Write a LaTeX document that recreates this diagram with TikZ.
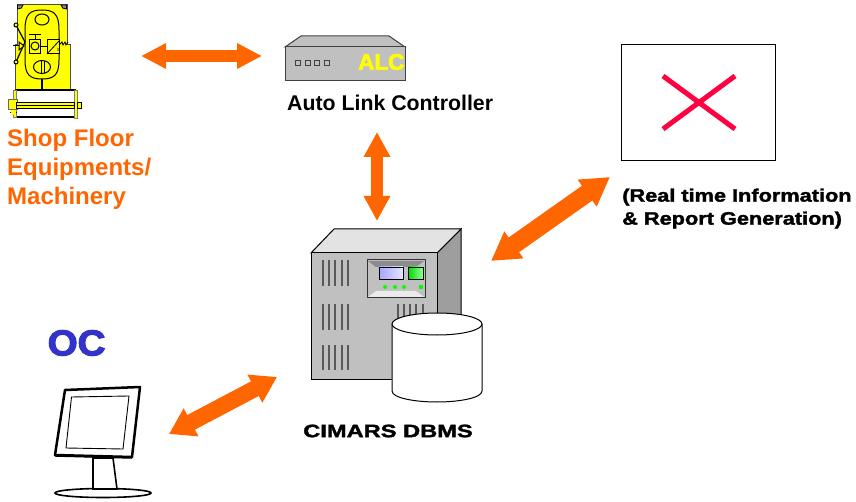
\documentclass[tikz,border=0pt]{standalone}
\usepackage{fontspec}
\setmainfont{Liberation Sans}
\newfontfamily\hvy{Liberation Sans}[BoldFeatures={FakeBold=1.6}]
\newfontfamily\hvyx{Liberation Sans}[BoldFeatures={FakeBold=3}]
\usetikzlibrary{arrows.meta}
\definecolor{org}{HTML}{FF6600}
\definecolor{gryc}{HTML}{C0C0C0}
\definecolor{ylw}{HTML}{FFFF00}
\definecolor{ocblue}{HTML}{3333CC}
\definecolor{crim}{HTML}{FF0040}
\tikzset{
  link/.style n args={3}{draw=org,line width=#1,{Triangle[length=#2,width=#3]}-{Triangle[length=#2,width=#3]}},
  lbl/.style={inner sep=0pt,anchor=west,text=black},
  ma/.style={draw=black,line width=1pt,fill=ylw},
  vent/.style={draw=black!65,line width=1.4pt},
}
\begin{document}
\begin{tikzpicture}[x=1pt,y=-1pt]
\useasboundingbox (0,0) rectangle (856,502);
\fill[white] (0,0) rectangle (856,502);
% machine
\draw[ma,draw=black!70] (17,5) -- (67,5) -- (67,45) -- (70,45) -- (70,90) -- (15,90) -- (15,45) -- (17,45) -- cycle;
\draw[black,line width=.8pt,fill=black!45] (17.5,5) -- (23,5) .. controls (23,8) and (20,9) .. (17.5,9) -- cycle (66.5,5) -- (61,5) .. controls (61,8) and (64,9) .. (66.5,9) -- cycle;
\draw[ma] (25,30) .. controls (25,14) and (30,10) .. (42,10) .. controls (54,10) and (59,14) .. (59,30) -- (59,60) .. controls (59,75) and (54,79) .. (42,79) .. controls (30,79) and (25,75) .. (25,60) -- cycle;
\draw[ma] (42,19.5) ellipse (7 and 5.5);
\draw[ma] (42,67) ellipse (8.5 and 6.5);
\draw[black,line width=1pt] (41,61) -- (41,73) (44,61) -- (44,73);
\draw[ma] (29,40) rectangle (40,54);
\draw[ma] (35,46) circle (4);
\draw[black,line width=1pt] (29,35) -- (41,35) (35,35) -- (35,40) (40,47) -- (47,47);
\draw[ma] (47,40) rectangle (59,54);
\draw[black,line width=.8pt] (47,54) -- (59,41) (58,48) -- (58,51) (59,45) -- (62,42) -- (63,45) -- (65,42) -- (66,45) -- (68,42);
\draw[black,line width=1.2pt] (16,25) -- (25,42) -- (16,62);
\draw[ma] (16,25) circle (2); \draw[ma] (16,62) circle (2);
\draw[ma] (19,42) -- (24,46) -- (19,50) -- cycle;
\draw[black,line width=1pt] (13,46) -- (19,46);
\draw[black,line width=1.5pt] (42,79) -- (42,90);
\draw[black,line width=1.2pt] (15,90) -- (76,90) (15,117) -- (76,117);
\draw[draw=gray,fill=ylw,line width=.6pt] (13,90) rectangle (16,117) (74,90) rectangle (77,118);
\draw[ma,draw=black!60] (8,100) rectangle (17,110);
\draw[black,fill=ylw,line width=.8pt] (16,102) rectangle (74,108);
\draw[black,line width=.8pt] (16,105) -- (74,105);
\draw[ma,line width=.6pt] (77,102) rectangle (81,108);
\draw[black,line width=1pt] (10,113) -- (17,113);
\fill[ylw] (11,110) rectangle (16,115);
\node[lbl,text=org,font=\bfseries\fontsize{24}{24}\selectfont] (sf1) at (7,140) {Shop Floor};
\node[lbl,text=org,font=\bfseries\fontsize{24}{24}\selectfont] (sf2) at (7,169) {Equipments/};
\node[lbl,text=org,font=\bfseries\fontsize{24}{24}\selectfont] (sf3) at (7,198) {Machinery};
% ALC
\draw[draw=black!75,line width=1pt,fill=gryc] (285,47) -- (301,36) -- (389,36) -- (405,47) -- cycle;
\draw[draw=black!75,line width=1pt,fill=gryc] (285,47) rectangle (405,81);
\foreach \bx in {298,308,317,327}
  \draw[draw=black!75,line width=1pt,fill=gryc] (\bx-2.5,61) rectangle (\bx+2.5,66);
\node[lbl,text=ylw,font=\hvyx\bfseries\fontsize{22.5}{22.5}\selectfont] (alc) at (358,62) {ALC};
\node[lbl,font=\bfseries\fontsize{21.3}{21.3}\selectfont] (alct) at (287,103) {Auto Link Controller};
% report
\node[draw=black,line width=.7pt,fill=white,minimum width=154pt,minimum height=116pt,inner sep=0pt] (rep) at (698,102) {};
\draw[crim,line width=5pt] (663,76) -- (735,129) (735,76) -- (663,129);
\node[lbl,font=\hvy\bfseries\fontsize{18}{18}\selectfont,xscale=1.207] (r1) at (622,197) {(Real time Information};
\node[lbl,font=\hvy\bfseries\fontsize{18}{18}\selectfont,xscale=1.207] (r2) at (622,220) {\& Report Generation)};
% server
\draw[black,line width=1pt,fill=black!38] (437,253) -- (461,229) -- (461,355) -- (437,379) -- cycle;
\draw[black,line width=1pt,fill=black!11] (311,253) -- (334,229) -- (461,229) -- (437,253) -- cycle;
\draw[black,line width=1pt,fill=gryc] (311,253) rectangle (437,379);
\foreach \vy/\ve in {260/286,304/330,345/370}
  \foreach \vx in {323,329,335,342,348}
    \draw[vent] (\vx,\vy) -- (\vx,\ve);
\foreach \vx in {398,404,410,416,423}
  \draw[vent] (\vx,304) -- (\vx,325);
\draw[black!80,line width=1pt,fill=gryc] (367,260) rectangle (425,298);
\fill[black!45] (368,261) -- (424,261) -- (416,267) -- (376,267) -- cycle;
\fill[black!8] (368,297) -- (424,297) -- (416,291) -- (376,291) -- cycle;
\shade[left color=blue!35,right color=blue!10,draw=black,line width=.8pt] (379,267) rectangle (403,279);
\shade[left color=green!85!black,right color=green!40,draw=black,line width=.8pt] (408,267) rectangle (423,279);
\foreach \dx in {385,395,404}
  \fill[green] (\dx,287) circle (2);
\fill[green] (419,285) rectangle (423,289);
\draw[black,line width=1pt,fill=white] (392,324) -- (392,391) .. controls (392,398) and (415,402) .. (437,402) .. controls (459,402) and (482,398) .. (482,391) -- (482,324);
\draw[black,line width=1pt,fill=white] (437,324) ellipse (45 and 11);
\node[lbl,font=\hvy\bfseries\fontsize{18}{18}\selectfont,xscale=1.314] (db) at (303,431) {CIMARS DBMS};
% OC
\node[lbl,text=ocblue,font=\hvyx\bfseries\fontsize{36}{36}\selectfont,xscale=1.07] (oc) at (47.5,343) {OC};
\draw[black,line width=1.6pt,fill=white] (103,493) ellipse (48 and 4.5);
\draw[black,line width=1.6pt,fill=white] (93,458) -- (113,458) -- (117,489) -- (93,489) -- cycle;
\draw[black,line width=2.5pt,line join=round,fill=white] (65,390) -- (140,387) -- (132,457) -- (55,455) -- cycle;
\draw[black,line width=1.5pt] (55.5,456) -- (132,458);
\draw[black,line width=.9pt,fill=white] (71.5,397) -- (129,396) -- (123,449) -- (66,448) -- cycle;
% connectors
\coordinate (a1) at (141,56); \coordinate (a2) at (262,56);
\coordinate (b1) at (377,132); \coordinate (b2) at (377,221);
\coordinate (c1) at (610,177); \coordinate (c2) at (491,261);
\coordinate (d1) at (277,377); \coordinate (d2) at (169,434);
\draw[link={12pt}{25pt}{24pt}] (a1) -- (a2);
\draw[link={12pt}{25pt}{25pt}] (b1) -- (b2);
\draw[link={18pt}{28pt}{31pt}] (c1) -- (c2);
\draw[link={16.5pt}{25pt}{30pt}] (d1) -- (d2);
\end{tikzpicture}
\end{document}
